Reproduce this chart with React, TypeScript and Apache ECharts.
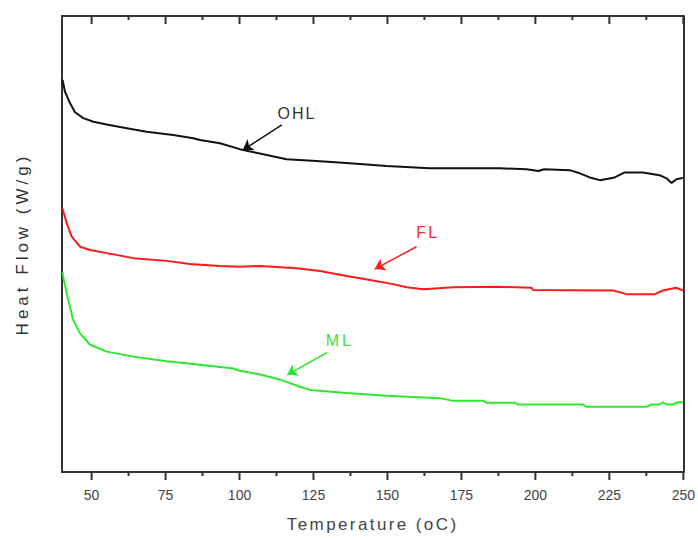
import React, { useEffect, useRef } from "react";
import * as echarts from "echarts";

// Temperature (°C) / heat flow (arbitrary, 0-100 scale)
const ohlX = [40.2, 41, 42.7, 44.4, 47.2, 50.6, 55.1, 61.9, 68.6, 77.6, 84.4, 86.6, 93.4, 100.1, 109.2, 115.9, 126, 137.3, 149.7, 164.3, 188, 197, 201, 203, 211.6, 215, 218.4, 221.8, 226.8, 230.2, 236.3, 242, 244.3, 246, 247.7, 249.9];
const ohlY = [86.0, 83.4, 80.9, 78.9, 77.6, 76.8, 76.2, 75.4, 74.6, 73.9, 73.2, 72.8, 72.1, 70.8, 69.5, 68.6, 68.2, 67.7, 67.1, 66.6, 66.6, 66.4, 66.0, 66.4, 66.2, 65.5, 64.6, 64.0, 64.6, 65.7, 65.7, 65.1, 64.4, 63.4, 64.2, 64.5];

const flX = [40.2, 41.6, 43.3, 46.1, 49.5, 55.1, 64.1, 75.4, 83.2, 93.4, 100.1, 106.9, 119.3, 127.2, 136.2, 144.1, 151.9, 156.5, 162.1, 172.2, 188, 198.7, 199.2, 226.3, 230.8, 240.3, 243.1, 247.6, 249.9];
const flY = [57.8, 54.5, 51.6, 49.4, 48.7, 48.0, 46.9, 46.3, 45.6, 45.2, 45.0, 45.2, 44.7, 44.1, 43.0, 42.1, 41.2, 40.5, 40.1, 40.5, 40.6, 40.4, 39.9, 39.8, 39.0, 39.0, 39.8, 40.4, 39.8];

const mlX = [40.2, 40.4, 42.1, 43.8, 46.1, 49.5, 55.1, 64.1, 75.4, 86.6, 97.9, 100.1, 106.9, 113.6, 120.4, 123.8, 136.2, 149.7, 167.7, 172.2, 182.3, 183.5, 193, 194.1, 216.1, 217.2, 237.5, 239.2, 242, 243.1, 244.3, 246.5, 248.2, 249.9];
const mlY = [43.9, 42.8, 37.7, 33.3, 30.4, 27.9, 26.4, 25.3, 24.3, 23.5, 22.7, 22.2, 21.4, 20.3, 18.7, 18.0, 17.3, 16.7, 16.2, 15.6, 15.6, 15.2, 15.2, 14.8, 14.8, 14.3, 14.3, 14.8, 14.8, 15.3, 14.8, 14.8, 15.3, 15.3];

const majorTicks = [50, 75, 100, 125, 150, 175, 200, 225, 250];
const minorTicks = [62.5, 87.5, 112.5, 137.5, 162.5, 187.5, 212.5, 237.5];

const seriesNames = ["OHL", "FL", "ML"];
const seriesColors = ["#111111", "#ff1a1a", "#2ee82e"];
const labelColors = ["#333333", "#ff2a2a", "#44dd44"];
// annotation: text position and arrow [start, end] in data units
const labelPos = [[119.4, 78.7], [163.6, 52.6], [133.9, 28.9]];
const arrowFrom = [[114.3, 76.1], [159.8, 49.4], [129.6, 26.2]];
const arrowTo = [[101.1, 70.6], [145.7, 44.5], [116.1, 21.3]];

const X_MIN = 40;
const X_MAX = 250;
const Y_MIN = 0;
const Y_MAX = 100;
const FONT = "'Liberation Sans', Arial, sans-serif";

const GRID = { left: 62, top: 16, right: 14, bottom: 68 };
const WIDTH = 698;
const HEIGHT = 540;

function zip(xs: number[], ys: number[]) {
  return xs.map((x, i) => [x, ys[i]]);
}

export default function App() {
  const ref = useRef<HTMLDivElement>(null);
  useEffect(() => {
    document.body.style.margin = "0";
    if (!ref.current) return;
    const chart = echarts.init(ref.current, undefined, { renderer: "svg" });
    const axisLine = { show: true, onZero: false, lineStyle: { color: "#333", width: 2 } };
    const baseX = { type: "value", min: X_MIN, max: X_MAX, splitLine: { show: false } };
    const datas = [zip(ohlX, ohlY), zip(flX, flY), zip(mlX, mlY)];

    // tick marks as broken line segments (bottom outward, top inward)
    const unitPerPx = (Y_MAX - Y_MIN) / (HEIGHT - GRID.top - GRID.bottom);
    const tickData: any[] = [];
    const addTicks = (vals: number[], lenPx: number) => {
      const d = lenPx * unitPerPx;
      vals.forEach((v) => {
        tickData.push([v, Y_MIN], [v, Y_MIN - d], [v, "-"]);
        tickData.push([v, Y_MAX], [v, Y_MAX - d], [v, "-"]);
      });
    };
    addTicks(majorTicks, 8);
    addTicks(minorTicks, 4);

    chart.setOption({
      animation: false,
      backgroundColor: "#fff",
      textStyle: { fontFamily: FONT },
      grid: { ...GRID, containLabel: false },
      xAxis: [
        {
          ...baseX,
          position: "bottom",
          name: "Temperature (oC)",
          nameLocation: "middle",
          nameGap: 44,
          nameTextStyle: { fontSize: 17, color: "#444", fontFamily: FONT },
          axisLine,
          axisTick: { show: false },
          axisLabel: { show: true, customValues: majorTicks, margin: 16, fontSize: 14, color: "#444", fontFamily: FONT },
        },
        {
          ...baseX,
          position: "top",
          axisLine,
          axisTick: { show: false },
          axisLabel: { show: false },
        },
      ],
      yAxis: [
        {
          type: "value",
          min: Y_MIN,
          max: Y_MAX,
          position: "left",
          name: "Heat Flow (W/g)",
          nameLocation: "middle",
          nameGap: 31,
          nameTextStyle: { fontSize: 17, color: "#333", fontFamily: FONT },
          axisLine,
          axisTick: { show: false },
          axisLabel: { show: false },
          splitLine: { show: false },
        },
        {
          type: "value",
          min: Y_MIN,
          max: Y_MAX,
          position: "right",
          axisLine,
          axisTick: { show: false },
          axisLabel: { show: false },
          splitLine: { show: false },
        },
      ],
      series: [
        ...seriesNames.map((name, i) => ({
          name,
          type: "line",
          xAxisIndex: 0,
          yAxisIndex: 0,
          data: datas[i],
          showSymbol: false,
          symbol: "none",
          lineStyle: { color: seriesColors[i], width: 2 },
          itemStyle: { color: seriesColors[i] },
          markLine: {
            silent: true,
            symbol: ["none", "arrow"],
            symbolSize: 10,
            label: { show: false },
            lineStyle: { color: seriesColors[i], width: 1.5, type: "solid" },
            data: [[{ coord: arrowFrom[i] }, { coord: arrowTo[i] }]],
          },
          markPoint: {
            silent: true,
            symbol: "circle",
            symbolSize: 0,
            itemStyle: { color: "transparent" },
            label: { show: true, position: "inside", formatter: name, color: labelColors[i], fontSize: 16, fontFamily: FONT },
            data: [{ coord: labelPos[i], value: name }],
          },
        })),
        {
          name: "axis ticks",
          type: "line",
          xAxisIndex: 0,
          yAxisIndex: 0,
          data: tickData,
          clip: false,
          silent: true,
          connectNulls: false,
          showSymbol: false,
          symbol: "none",
          lineStyle: { color: "#333", width: 2 },
        },
      ],
    });

    // letter spacing of the wide, spaced-out texts of the reference
    const spacing: Record<string, string> = {
      "Temperature (oC)": "2.4px",
      "Heat Flow (W/g)": "4px",
      OHL: "2px",
      FL: "2px",
      ML: "3px",
    };
    ref.current.querySelectorAll("text").forEach((t) => {
      const s = spacing[(t.textContent || "").trim()];
      if (s) t.setAttribute("letter-spacing", s);
    });
    return () => chart.dispose();
  }, []);
  return <div ref={ref} style={{ width: WIDTH, height: HEIGHT }} />;
}
